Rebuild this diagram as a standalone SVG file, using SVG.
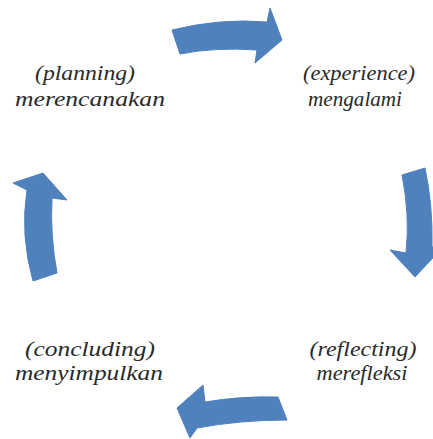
<svg xmlns="http://www.w3.org/2000/svg" width="433" height="439" viewBox="0 0 433 439">
<style>
.arr{fill:#4F81BD;stroke:#4F81BD;stroke-width:1;stroke-linejoin:round}
.t{font-family:'Liberation Serif','Times New Roman',serif;font-style:italic;font-size:22px;fill:#2a2a2a;text-anchor:middle}
</style>
<rect width="433" height="439" fill="#fff"/>
<g id="connectors">
<path class="arr" d="M172,30 Q220,18 267,22 L270,8 L282,40 L255,63 L257,50 Q215,47 180,54 Z"/>
<path class="arr" d="M402,175 Q410,215 406,253 L390,250 L415,277 L445,245 L432,247 Q433,205 425,168 Z"/>
<path class="arr" d="M278,397 Q240,396 205,402 L203,385 L177,408 L190,438 L197,428 Q240,420 287,420 Z"/>
<path class="arr" d="M33,281 Q20,235 27,190 L13,183 L43,173 L67,200 L52,198 Q50,235 57,273 Z"/>
</g>
<g id="planning">
<text class="t" x="85" y="80" textLength="100" lengthAdjust="spacingAndGlyphs">(planning)</text>
<text class="t" x="90" y="106" textLength="150" lengthAdjust="spacingAndGlyphs">merencanakan</text>
</g>
<g id="experience">
<text class="t" x="359" y="80" textLength="112" lengthAdjust="spacingAndGlyphs">(experience)</text>
<text class="t" x="355" y="106" textLength="94" lengthAdjust="spacingAndGlyphs">mengalami</text>
</g>
<g id="reflecting">
<text class="t" x="363" y="356" textLength="107" lengthAdjust="spacingAndGlyphs">(reflecting)</text>
<text class="t" x="362" y="380" textLength="91" lengthAdjust="spacingAndGlyphs">merefleksi</text>
</g>
<g id="concluding">
<text class="t" x="90" y="356" textLength="130" lengthAdjust="spacingAndGlyphs">(concluding)</text>
<text class="t" x="89" y="380" textLength="148" lengthAdjust="spacingAndGlyphs">menyimpulkan</text>
</g>
</svg>
